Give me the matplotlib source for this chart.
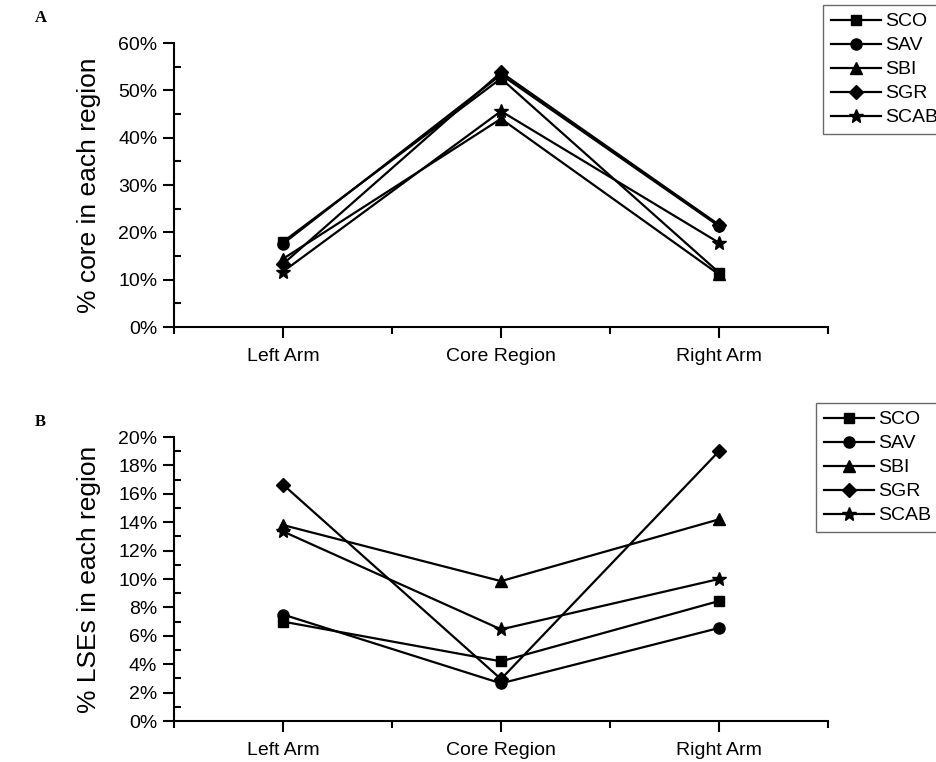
import numpy as np
import matplotlib.pyplot as plt
from matplotlib.ticker import MultipleLocator, FuncFormatter

plt.rcParams['font.family'] = ['Liberation Sans', 'DejaVu Sans']

# categories and series
regions = ["Left Arm", "Core Region", "Right Arm"]
series = ["SCO", "SAV", "SBI", "SGR", "SCAB"]
markers = ["s", "o", "^", "D", "*"]

# panel A: % core in each region
core_sco = [18.0, 52.5, 11.5]
core_sav = [17.6, 53.3, 21.3]
core_sbi = [14.4, 44.0, 11.1]
core_sgr = [13.3, 53.8, 21.6]
core_scab = [11.7, 45.6, 17.8]

# panel B: % LSEs in each region
lse_sco = [7.0, 4.2, 8.45]
lse_sav = [7.5, 2.65, 6.55]
lse_sbi = [13.8, 9.85, 14.2]
lse_sgr = [16.65, 2.95, 19.0]
lse_scab = [13.35, 6.45, 10.0]

core_vals = [core_sco, core_sav, core_sbi, core_sgr, core_scab]
lse_vals = [lse_sco, lse_sav, lse_sbi, lse_sgr, lse_scab]

fig = plt.figure(figsize=(9.37, 7.62), dpi=100)
ax_a = fig.add_axes([174 / 937, 1 - 327 / 762, 654 / 937, 284 / 762])
ax_b = fig.add_axes([174 / 937, 1 - 721 / 762, 654 / 937, 284 / 762])

x = np.arange(1, len(regions) + 1)
msize = {"s": 7, "o": 8, "^": 9, "D": 7, "*": 10}


def style_axis(ax, ymax, major, minor, ylabel):
    for name in ["top", "right"]:
        ax.spines[name].set_visible(False)
    for name in ["left", "bottom"]:
        ax.spines[name].set_linewidth(1.5)
    ax.set_xlim(0.5, 3.5)
    ax.set_ylim(0, ymax)
    ax.set_xticks(x)
    ax.set_xticklabels(regions)
    ax.xaxis.set_minor_locator(MultipleLocator(0.5))
    ax.yaxis.set_major_locator(MultipleLocator(major))
    ax.yaxis.set_minor_locator(MultipleLocator(minor))
    ax.yaxis.set_major_formatter(FuncFormatter(lambda v, p: f"{v:.0f}%"))
    ax.tick_params(axis="both", which="major", direction="out", length=8,
                   width=1.5, labelsize=14, pad=4)
    ax.tick_params(axis="x", which="major", pad=7)
    ax.tick_params(axis="y", which="minor", direction="in", length=5, width=1.5)
    ax.tick_params(axis="x", which="minor", direction="out", length=5, width=1.5)
    ax.set_ylabel(ylabel, fontsize=19, labelpad=12)


for vals, mk, name in zip(core_vals, markers, series):
    ax_a.plot(x, vals, color="black", lw=1.6, marker=mk, ms=msize[mk],
              label=name)
for vals, mk, name in zip(lse_vals, markers, series):
    ax_b.plot(x, vals, color="black", lw=1.6, marker=mk, ms=msize[mk],
              label=name)

style_axis(ax_a, 60, 10, 5, "% core in each region")
style_axis(ax_b, 20, 2, 1, "% LSEs in each region")

leg_kw = dict(loc="upper left", fontsize=14, frameon=True, fancybox=False,
              handlelength=2.6, handletextpad=0.2, labelspacing=0.33,
              borderpad=0.4, borderaxespad=0)
leg_a = ax_a.legend(bbox_to_anchor=(823 / 937, 1 - 5 / 762),
                    bbox_transform=fig.transFigure, **leg_kw)
leg_b = ax_b.legend(bbox_to_anchor=(816 / 937, 1 - 403 / 762),
                    bbox_transform=fig.transFigure, **leg_kw)
for leg in [leg_a, leg_b]:
    leg.get_frame().set_edgecolor("#444444")
    leg.get_frame().set_linewidth(1.0)

fig.text(35 / 937, 1 - 18 / 762, "A", fontsize=12, fontweight="bold",
         family="Liberation Serif", ha="left", va="center")
fig.text(35 / 937, 1 - 422 / 762, "B", fontsize=12, fontweight="bold",
         family="Liberation Serif", ha="left", va="center")

fig.savefig("out.png", dpi=100)
